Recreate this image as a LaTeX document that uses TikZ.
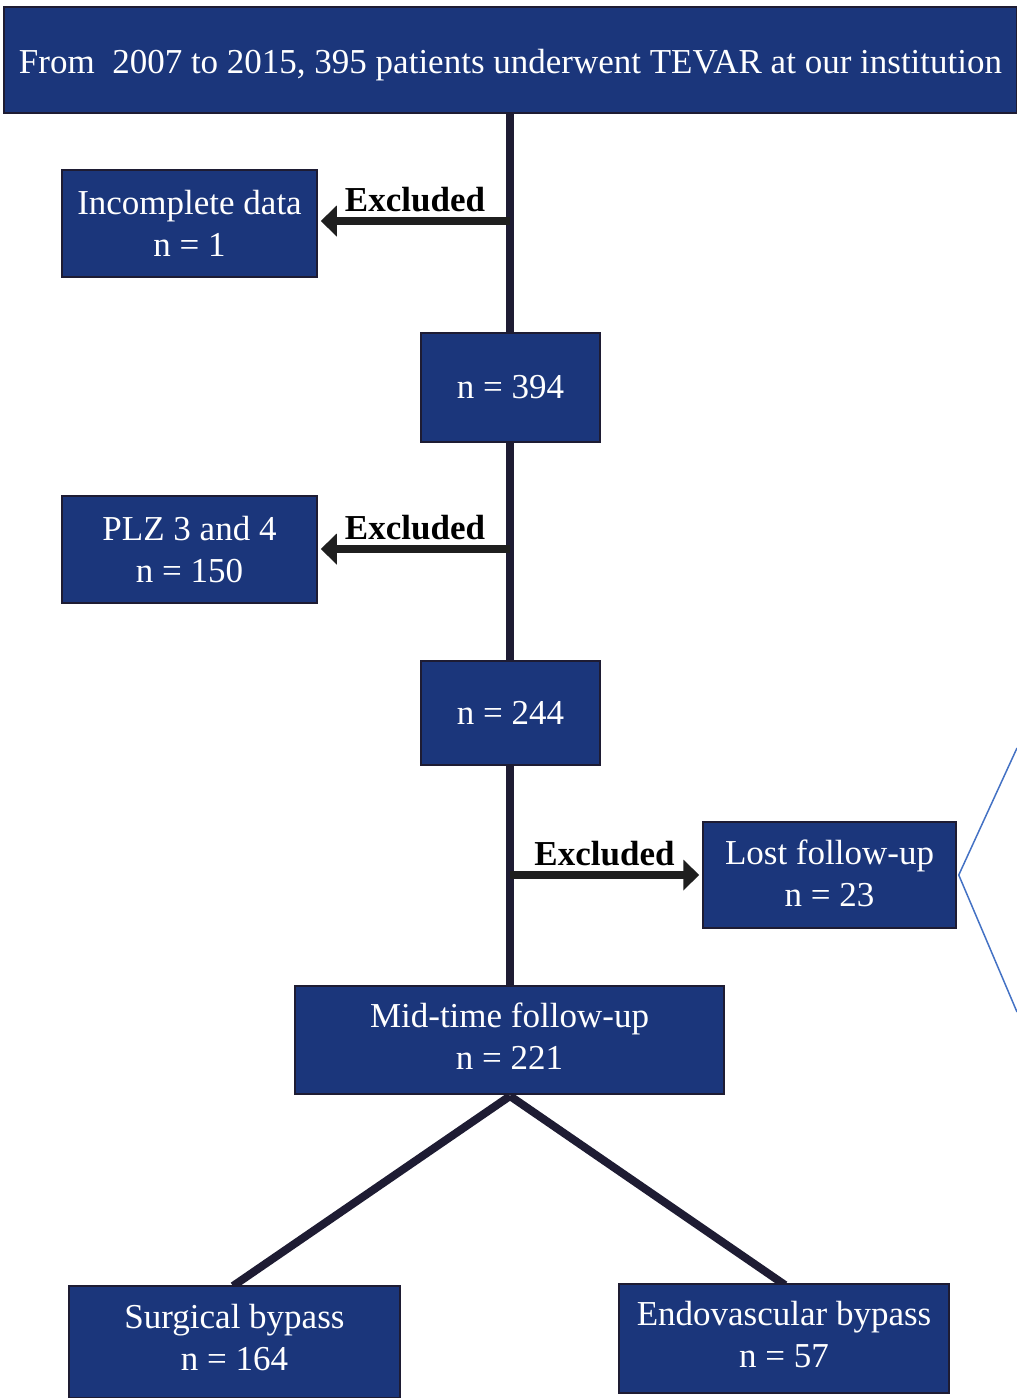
\documentclass[tikz,border=0pt]{standalone}
\usepackage{fontspec}
\setmainfont{Liberation Serif}
\usetikzlibrary{arrows.meta}
\definecolor{boxblue}{HTML}{1B367B}
\definecolor{linedark}{HTML}{1E1C33}
\definecolor{thinblue}{HTML}{4472C4}
\tikzset{
  flowbox/.style={draw=linedark, line width=1.5pt, fill=boxblue, text=white, inner sep=0pt,
    align=center, font=\fontsize{35}{42}\selectfont},
  trunk/.style={draw=linedark, line width=8pt},
  exarrow/.style={draw=black!88, line width=7.5pt, -{Triangle[length=16pt,width=30pt]}},
  exlabel/.style={font=\fontsize{35}{38}\selectfont\bfseries, text=black, inner sep=0pt},
}
\begin{document}
\begin{tikzpicture}[x=1pt,y=-1pt]
\useasboundingbox (0,0) rectangle (1017,1398);
\clip (0,0) rectangle (1017,1398);
% trunk lines first (behind boxes)
\coordinate (t0) at (510,113);
\coordinate (t1) at (510,986);
\draw[trunk] (t0) -- (t1);
\coordinate (fork) at (510,1096);
\coordinate (sl) at (233,1286);
\coordinate (sr) at (785,1285);
\draw[trunk] (fork) -- (sl);
\draw[trunk] (fork) -- (sr);

\node[flowbox, minimum width=1013, minimum height=106, text height=34pt, text depth=7.5pt] (top) at (510.5,60)
  {From\ \ 2007 to 2015, 395 patients underwent TEVAR at our institution};
\node[flowbox, minimum width=255, minimum height=107] (inc) at (189.5,223.5)
  {Incomplete data\\n = 1};
\node[flowbox, minimum width=179, minimum height=109] (n394) at (510.5,387.5)
  {n = 394};
\node[flowbox, minimum width=255, minimum height=107] (plz) at (189.5,549.5)
  {PLZ 3 and 4\\n = 150};
\node[flowbox, minimum width=179, minimum height=104] (n244) at (510.5,713)
  {n = 244};
\node[flowbox, minimum width=253, minimum height=106, text depth=4pt] (lost) at (829.5,875)
  {Lost follow-up\\n = 23};
\node[flowbox, minimum width=429, minimum height=108, text depth=8pt] (mid) at (509.5,1040)
  {Mid-time follow-up\\n = 221};
\node[flowbox, minimum width=331, minimum height=112, text depth=9pt] (surg) at (234.5,1342)
  {Surgical bypass\\n = 164};
\node[flowbox, minimum width=330, minimum height=109, text depth=9pt] (endo) at (784,1338.5)
  {Endovascular bypass\\n = 57};

% exclusion arrows
\coordinate (j1) at (510,221);
\coordinate (j2) at (510,549);
\coordinate (j3) at (510,875);
\draw[exarrow] (j1) -- ([xshift=3pt]inc.east |- j1);
\draw[exarrow] (j2) -- ([xshift=3pt]plz.east |- j2);
\draw[exarrow] (j3) -- ([xshift=-3pt]lost.west |- j3);
\node[exlabel] (ex1) at (415,200) {Excluded};
\node[exlabel] (ex2) at (415,528) {Excluded};
\node[exlabel] (ex3) at (604.5,854) {Excluded};

% thin blue bracket
\coordinate (b1) at (1017,748);
\coordinate (b2) at (1017,1012);
\draw[thinblue, line width=1.5pt] (b1) -- ([xshift=2pt]lost.east) -- (b2);
\end{tikzpicture}
\end{document}
